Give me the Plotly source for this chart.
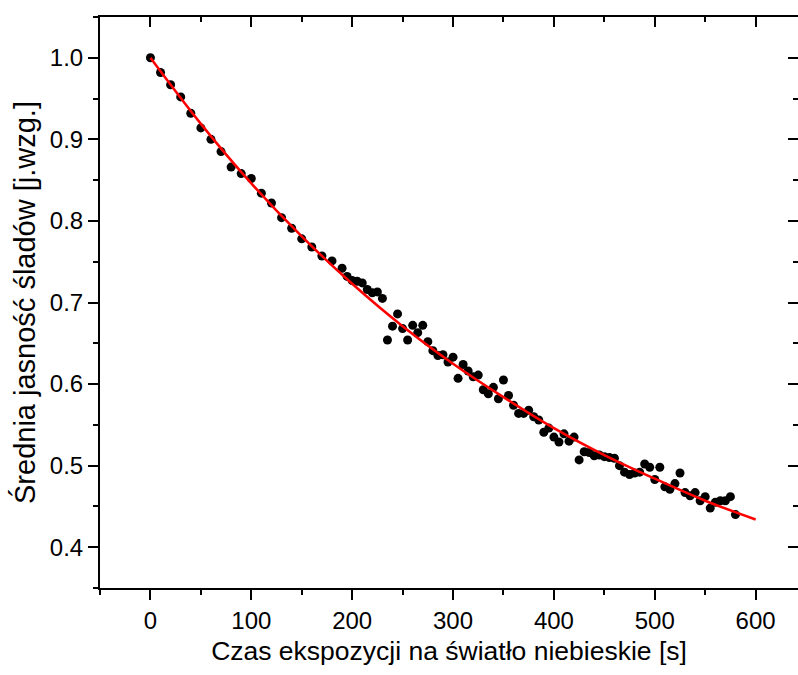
import plotly.graph_objects as go

# Measured data (time in s, relative mean brightness)
time_s = [0, 10, 20, 30, 40, 50, 60, 70, 80, 90, 100, 110, 120, 130, 140, 150, 160, 170, 180, 190,
          195, 200, 205, 210, 215, 220, 225, 230, 235, 240, 245, 250, 255, 260, 265, 270, 275, 280,
          285, 290, 295, 300, 305, 310, 315, 320, 325, 330, 335, 340, 345, 350, 355, 360, 365, 370,
          375, 380, 385, 390, 395, 400, 405, 410, 415, 420, 425, 430, 435, 440, 445, 450, 455, 460,
          465, 470, 475, 480, 485, 490, 495, 500, 505, 510, 515, 520, 525, 530, 535, 540, 545, 550,
          555, 560, 565, 570, 575, 580]
brightness = [1.000, 0.982, 0.967, 0.952, 0.932, 0.914, 0.900, 0.885, 0.866, 0.858, 0.852, 0.834,
              0.822, 0.804, 0.791, 0.778, 0.768, 0.757, 0.751, 0.742,
              0.732, 0.727, 0.726, 0.724, 0.716, 0.712, 0.713, 0.705, 0.654, 0.671, 0.686, 0.668,
              0.654, 0.672, 0.663, 0.672, 0.652, 0.641,
              0.635, 0.636, 0.627, 0.633, 0.607, 0.624, 0.616, 0.609, 0.611, 0.593, 0.588, 0.596,
              0.582, 0.605, 0.586, 0.574, 0.564, 0.564,
              0.568, 0.560, 0.556, 0.541, 0.546, 0.535, 0.529, 0.539, 0.530, 0.535, 0.507, 0.517,
              0.516, 0.512, 0.513, 0.511, 0.510, 0.509,
              0.500, 0.492, 0.489, 0.491, 0.492, 0.502, 0.498, 0.483, 0.498, 0.474, 0.471, 0.478,
              0.491, 0.467, 0.463, 0.467, 0.457, 0.462,
              0.448, 0.455, 0.457, 0.457, 0.462, 0.440]

# Fitted curve, values
fit_time = [0, 50, 100, 150, 200, 250, 300, 350, 400, 450, 500, 550, 600]
fit_value = [1.000, 0.919, 0.846, 0.781, 0.723, 0.671, 0.625, 0.584, 0.546, 0.513, 0.484, 0.457, 0.434]

x_ticks = [0, 100, 200, 300, 400, 500, 600]
y_ticks = [0.4, 0.5, 0.6, 0.7, 0.8, 0.9, 1.0]

FONT = "Liberation Sans, Arial, sans-serif"
x_range = [-50, 642]
y_range = [0.35, 1.05]

fig = go.Figure()
fig.add_trace(go.Scatter(x=time_s, y=brightness, mode="markers",
                         marker=dict(color="black", size=9), showlegend=False))
fig.add_trace(go.Scatter(x=fit_time, y=fit_value, mode="lines",
                         line=dict(color="red", width=2.5, shape="spline"), showlegend=False))
# invisible trace for mirrored axes
fig.add_trace(go.Scatter(x=[0], y=[1.0], xaxis="x2", yaxis="y2", mode="markers",
                         marker=dict(opacity=0), showlegend=False, hoverinfo="skip"))

common = dict(showgrid=False, zeroline=False, color="black", linecolor="black")

fig.update_layout(
    width=798, height=675,
    margin=dict(l=100, r=0, t=17, b=87),
    paper_bgcolor="white", plot_bgcolor="white",
    font=dict(family=FONT, color="black", size=24),
    xaxis=dict(**common, range=x_range, tickvals=x_ticks, ticks="outside", ticklen=10, tickwidth=1.5,
               showline=True, linewidth=2,
               minor=dict(ticks="outside", ticklen=5, tickwidth=1.5, dtick=50, tick0=0),
               tickfont=dict(size=24, family=FONT),
               title=dict(text="Czas ekspozycji na światło niebieskie [s]",
                          font=dict(size=26.5, family=FONT), standoff=9)),
    yaxis=dict(**common, range=y_range, tickvals=y_ticks, tickformat=".1f", ticks="outside",
               ticklen=10, tickwidth=1.5, showline=True, linewidth=2,
               minor=dict(ticks="outside", ticklen=5, tickwidth=1.5, dtick=0.05, tick0=0.4),
               tickfont=dict(size=24, family=FONT),
               title=dict(text="Średnia jasność śladów [j.wzg.]",
                          font=dict(size=29, family=FONT), standoff=6)),
    xaxis2=dict(**common, range=x_range, overlaying="x", side="top", anchor="y",
                tickvals=x_ticks, ticks="inside", ticklen=10, tickwidth=1.5,
                showticklabels=False, showline=True, linewidth=2,
                minor=dict(ticks="inside", ticklen=5, tickwidth=1.5, dtick=50, tick0=0)),
    yaxis2=dict(**common, range=y_range, overlaying="y", side="right", anchor="x",
                tickvals=y_ticks, ticks="inside", ticklen=10, tickwidth=1.5,
                showticklabels=False, showline=False,
                minor=dict(ticks="inside", ticklen=5, tickwidth=1.5, dtick=0.05, tick0=0.4)),
)

fig.write_html("out.html")
